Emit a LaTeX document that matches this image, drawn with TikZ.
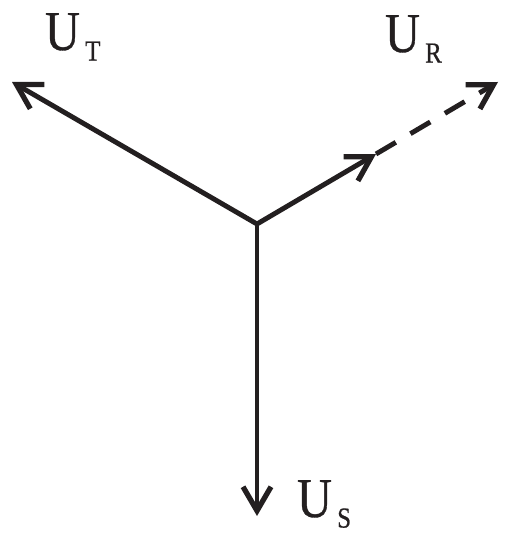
\documentclass[tikz,border=0pt]{standalone}
\usepackage{fontspec}
\setmainfont{Liberation Serif}
\newfontfamily\phasorfont[FakeStretch=0.86,FakeBold=0.6]{Liberation Serif}
\usetikzlibrary{arrows.meta}
\definecolor{phasorink}{RGB}{35,31,32}

\newcommand{\phasorlabel}[1]{{\phasorfont\fontsize{32}{36}\selectfont U}\kern3pt\raisebox{-6pt}{\phasorfont\fontsize{16.5}{18}\selectfont #1}}

\begin{document}
\begin{tikzpicture}[x=0.02cm,y=-0.02cm,line cap=butt,line join=miter,
    phasor/.style={phasorink,line width=2.8pt,-{Straight Barb[length=0.48cm,width=0.56cm,line width=3pt]}},
    phasorlbl/.style={phasorink,anchor=base west,inner sep=0pt,outer sep=0pt}]
    \useasboundingbox (0,0) rectangle (505,533);

    \coordinate (O) at (257,224);
    \coordinate (T) at (12,82);
    \coordinate (M) at (376,154);
    \coordinate (R) at (498,82);
    \coordinate (S) at (257,516);

    % Fasores
    \draw[phasor] (O) -- (T);
    \draw[phasor] (O) -- (S);
    \draw[phasor] (O) -- (M);
    \draw[phasor,dash pattern=on 0.46cm off 0.34cm] (M) -- (R);

    % Etiquetas
    \node[phasorlbl] (labT) at (45,50) {\phasorlabel{T}};
    \node[phasorlbl] (labR) at (385,52) {\phasorlabel{R}};
    \node[phasorlbl] (labS) at (297,517) {\phasorlabel{S}};
\end{tikzpicture}
\end{document}
